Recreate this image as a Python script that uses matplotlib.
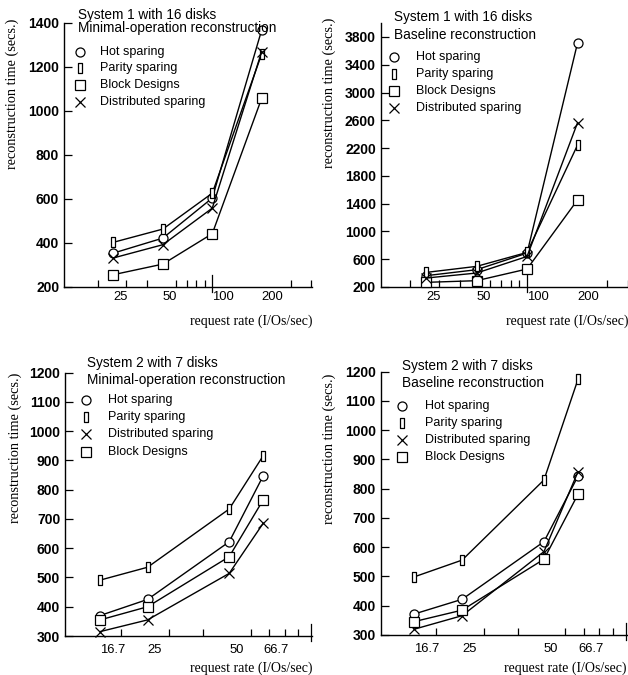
import matplotlib
matplotlib.use('Agg')
import matplotlib.pyplot as plt
from matplotlib.path import Path
from matplotlib.ticker import FixedLocator, NullFormatter

W, H = 628, 675

# ---------------- data ----------------
top_x = [25, 50, 100, 200]
top_xlabels = ['25', '50', '100', '200']
bot_x = [16.7, 25, 50, 66.7]
bot_xlabels = ['16.7', '25', '50', '66.7']

s1_min_hot = [354, 422, 604, 1367]
s1_min_parity = [403, 463, 626, 1258]
s1_min_block = [256, 304, 442, 1057]
s1_min_dist = [332, 392, 558, 1269]

s1_base_hot = [363, 449, 688, 3714]
s1_base_parity = [410, 497, 698, 2244]
s1_base_block = [267, 291, 459, 1454]
s1_base_dist = [329, 401, 640, 2565]

s2_min_hot = [370, 425, 622, 847]
s2_min_parity = [491, 535, 734, 916]
s2_min_block = [355, 400, 571, 765]
s2_min_dist = [315, 355, 514, 685]

s2_base_hot = [372, 422, 619, 843]
s2_base_parity = [499, 556, 830, 1174]
s2_base_block = [346, 385, 559, 781]
s2_base_dist = [320, 366, 585, 858]

top_yticks = [200, 400, 600, 800, 1000, 1200, 1400]
tr_yticks = [200, 600, 1000, 1400, 1800, 2200, 2600, 3000, 3400, 3800]
bot_yticks = [300, 400, 500, 600, 700, 800, 900, 1000, 1100, 1200]

top_minor = [20, 30, 40, 50, 60, 70, 80, 90, 200, 300, 400]
bot_minor = [20, 30, 40, 50, 60, 70, 80, 90]
decade = [100]

# ---------------- styles ----------------
parity_marker = Path([(-0.18, -0.5), (0.18, -0.5), (0.18, 0.5), (-0.18, 0.5), (-0.18, -0.5)],
                     [Path.MOVETO, Path.LINETO, Path.LINETO, Path.LINETO, Path.CLOSEPOLY])
styles = {
    'Hot sparing': dict(marker='o', ms=6.5),
    'Parity sparing': dict(marker=parity_marker, ms=7),
    'Block Designs': dict(marker='s', ms=6.5),
    'Distributed sparing': dict(marker='x', ms=6.5),
}

SANS = 'Liberation Sans'
SERIF = 'Liberation Serif'
TITLE_FS = 9.8
LEG_FS = 9.0
YTICK_FS = 10
XTICK_FS = 9.4
XLAB_FS = 10
YLAB_FS = 10.3

fig = plt.figure(figsize=(W / 100, H / 100), dpi=100)


def rect(l, r, t, b):
    return [l / W, 1 - b / H, (r - l) / W, (b - t) / H]


def fpos(x, y):
    return x / W, 1 - y / H


def panel(r, xlim, ylim, xs, xlabels, yticks, minor, series, order,
          title, title_xy, title_dy, leg_mx, leg_tx, leg_y0, leg_dy,
          xpad, ylab_xy, xlab_y):
    ax = fig.add_axes(rect(*r))
    ax.set_xscale('log')
    for name in order:
        st = styles[name]
        ax.plot(xs, series[name], color='black', lw=1.0, marker=st['marker'],
                ms=st['ms'], mfc='white', mec='black', mew=0.9, clip_on=False, zorder=3)
    ax.set_xlim(*xlim)
    ax.set_ylim(*ylim)
    for s in ['top', 'right']:
        ax.spines[s].set_visible(False)
    ax.spines['left'].set_linewidth(1.0)
    ax.spines['bottom'].set_linewidth(1.0)
    # x ticks: labels left-aligned at data, marks as minor
    ax.xaxis.set_major_locator(FixedLocator(xs))
    ax.set_xticklabels(xlabels, fontsize=XTICK_FS, fontfamily=SANS, ha='left')
    ax.tick_params(axis='x', which='major', length=0, pad=xpad)
    ax.xaxis.set_minor_locator(FixedLocator(minor))
    ax.xaxis.set_minor_formatter(NullFormatter())
    ax.tick_params(axis='x', which='minor', direction='in', length=5, width=0.9)
    for d in decade:
        ax.axvline(d, ymin=-0.02, ymax=0.045, color='black', lw=0.9, clip_on=False)
    # y ticks
    ax.set_yticks(yticks)
    ax.set_yticklabels([str(v) for v in yticks], fontsize=YTICK_FS, fontweight='bold', fontfamily=SANS)
    ax.tick_params(axis='y', which='major', direction='in', length=6, width=0.9, pad=3.5)
    ax.yaxis.set_minor_locator(FixedLocator([]))
    # axis labels
    ax.set_ylabel('reconstruction time (secs.)', fontfamily=SERIF, fontsize=YLAB_FS)
    ax.yaxis.label.set_verticalalignment('center')
    ax.yaxis.set_label_coords(*ylab_xy)
    ax.set_xlabel('request rate (I/Os/sec)', fontfamily=SERIF, fontsize=XLAB_FS)
    ax.xaxis.label.set_horizontalalignment('right')
    ax.xaxis.label.set_verticalalignment('center')
    ax.xaxis.set_label_coords(1.0, xlab_y)
    # title lines
    for i, line in enumerate(title):
        fig.text(*fpos(title_xy[0], title_xy[1] + i * title_dy), line,
                 fontfamily=SANS, fontsize=TITLE_FS, ha='left', va='center')
    # legend
    for i, name in enumerate(order):
        y = leg_y0 + i * leg_dy
        st = styles[name]
        mx, my = fpos(leg_mx, y)
        ax.plot([mx], [my], transform=fig.transFigure, linestyle='none',
                marker=st['marker'], ms=st['ms'], mfc='white', mec='black',
                mew=0.9, clip_on=False)
        fig.text(*fpos(leg_tx, y), name, fontfamily=SANS, fontsize=LEG_FS,
                 ha='left', va='center')
    return ax


top_order = ['Hot sparing', 'Parity sparing', 'Block Designs', 'Distributed sparing']
bot_order = ['Hot sparing', 'Parity sparing', 'Distributed sparing', 'Block Designs']

panel((64, 312, 22.7, 287), (12.5, 405), (200, 1400), top_x, top_xlabels, top_yticks, top_minor,
      {'Hot sparing': s1_min_hot, 'Parity sparing': s1_min_parity,
       'Block Designs': s1_min_block, 'Distributed sparing': s1_min_dist},
      top_order, ['System 1 with 16 disks', 'Minimal-operation reconstruction'],
      (78, 15.5), 12.5, 80, 100, 51.7, 16.7, 3.0, (-0.21, 0.73), -0.131)

panel((380.7, 628, 23.1, 287), (13.4, 400), (200, 4000), top_x, top_xlabels, tr_yticks, top_minor,
      {'Hot sparing': s1_base_hot, 'Parity sparing': s1_base_parity,
       'Block Designs': s1_base_block, 'Distributed sparing': s1_base_dist},
      top_order, ['System 1 with 16 disks', 'Baseline reconstruction'],
      (394, 17), 18, 394, 415.7, 57.3, 17, 3.0, (-0.209, 0.735), -0.131)

panel((65, 312, 372.7, 636), (12.4, 101), (300, 1200), bot_x, bot_xlabels, bot_yticks, bot_minor,
      {'Hot sparing': s2_min_hot, 'Parity sparing': s2_min_parity,
       'Block Designs': s2_min_block, 'Distributed sparing': s2_min_dist},
      bot_order, ['System 2 with 7 disks', 'Minimal-operation reconstruction'],
      (86.7, 363), 17, 86, 108.3, 400, 17.2, 6.0, (-0.202, 0.716), -0.1215)

panel((380.7, 627, 371.7, 635), (12.55, 101), (300, 1200), bot_x, bot_xlabels, bot_yticks, bot_minor,
      {'Hot sparing': s2_base_hot, 'Parity sparing': s2_base_parity,
       'Block Designs': s2_base_block, 'Distributed sparing': s2_base_dist},
      bot_order, ['System 2 with 7 disks', 'Baseline reconstruction'],
      (402, 366), 17, 402.3, 424.7, 405.7, 17.2, 6.0, (-0.21, 0.708), -0.126)

fig.savefig('out.png', dpi=100)
